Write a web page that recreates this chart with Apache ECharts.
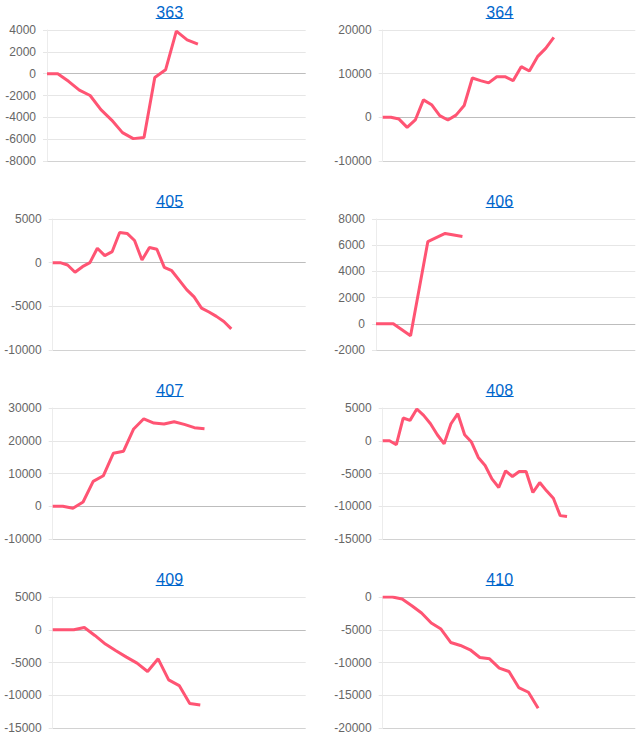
<!DOCTYPE html>
<html>
<head>
<meta charset="utf-8">
<script src="https://cdn.jsdelivr.net/npm/echarts@6/dist/echarts.min.js"></script>
<style>
html,body{margin:0;padding:0;background:#fff;}
#c{width:643px;height:745px;}
</style>
</head>
<body>
<div id="c"></div>
<script>
// Panel titles
const titles = ['363', '364', '405', '406', '407', '408', '409', '410'];
// Number of x slots per panel (category axis, hidden labels)
const slotCounts = [25, 32, 35, 16, 26, 38, 25, 27];
// Y-axis ranges
const yMins = [-8000, -10000, -10000, -2000, -10000, -15000, -15000, -20000];
const yMaxs = [4000, 20000, 5000, 8000, 30000, 5000, 5000, 0];
const yIntervals = [2000, 10000, 5000, 2000, 10000, 5000, 5000, 5000];

// Series values
const s363 = [0, 0, -700, -1500, -2000, -3300, -4250, -5400, -5950, -5850, -350, 350, 3900, 3100, 2700];
const s364 = [0, 0, -400, -2300, -600, 4000, 2900, 400, -600, 500, 2700, 9000, 8400, 7900, 9300, 9300, 8400, 11600, 10600, 13900, 15800, 18300];
const s405 = [0, 0, -270, -1100, -460, 0, 1650, 800, 1270, 3460, 3350, 2540, 300, 1730, 1540, -540, -920, -2000, -3080, -3920, -5200, -5650, -6150, -6730, -7580];
const s406 = [0, 0, -920, 6280, 6900, 6670];
const s407 = [0, 0, -600, 1300, 7600, 9300, 16200, 16800, 23600, 26700, 25400, 25100, 25800, 25000, 24000, 23700];
const s408 = [0, 0, -600, 3470, 3110, 4850, 3880, 2600, 920, -460, 2600, 4130, 920, -200, -2550, -3780, -5820, -7140, -4600, -5460, -4700, -4700, -7900, -6380, -7650, -8780, -11430, -11580];
const s409 = [0, 0, 0, 350, -870, -2190, -3210, -4180, -5100, -6380, -4440, -7650, -8520, -11270, -11480];
const s410 = [0, 0, -300, -1330, -2450, -3980, -4900, -6940, -7400, -8060, -9240, -9440, -10870, -11380, -13830, -14540, -16990];
const seriesData = [s363, s364, s405, s406, s407, s408, s409, s410];

// Layout (pixels)
const W = 643;
const rowTop0 = 30, rowStep = 189, plotH = 131;
const gridLefts = [47, 382.7, 52.7, 376, 52.7, 382.7, 52.7, 382.7];
const colRight = [305.7, 635.3];
const titleCx = [169.7, 499.7];

const lineColor = '#ff5473';
const gridColor = '#e6e6e6';
const zeroColor = '#bdbdbd';
const bottomColor = '#d2d2d2';
const fontFam = 'Liberation Sans, Arial, sans-serif';

const chart = echarts.init(document.getElementById('c'), null, {renderer: 'svg'});

const grids = [], xAxes = [], yAxes = [], series = [], graphics = [];
for (let i = 0; i < 8; i++) {
  const col = i % 2, row = Math.floor(i / 2);
  const top = rowTop0 + row * rowStep;
  grids.push({left: gridLefts[i], right: W - colRight[col], top: top, height: plotH, containLabel: false});
  const cats = [];
  for (let k = 0; k < slotCounts[i]; k++) cats.push(String(k + 1));
  xAxes.push({
    type: 'category', gridIndex: i, data: cats, boundaryGap: false,
    axisLabel: {show: false}, axisTick: {show: false}, axisLine: {show: false}, splitLine: {show: false}
  });
  const colors = [];
  for (let v = yMins[i]; v <= yMaxs[i]; v += yIntervals[i]) {
    colors.push(v === 0 ? zeroColor : (v === yMins[i] ? bottomColor : gridColor));
  }
  yAxes.push({
    type: 'value', gridIndex: i, min: yMins[i], max: yMaxs[i], interval: yIntervals[i],
    axisLine: {show: true, lineStyle: {color: '#ececec', width: 1}},
    axisTick: {show: true, length: 4, lineStyle: {color: gridColor}},
    axisLabel: {color: '#666', fontSize: 12, fontFamily: fontFam, margin: 11,
      formatter: function (v) { return String(v); }},
    splitLine: {show: true, lineStyle: {color: colors, width: 1}}
  });
  series.push({
    type: 'line', xAxisIndex: i, yAxisIndex: i, data: seriesData[i],
    showSymbol: false, symbol: 'none', smooth: false,
    lineStyle: {color: lineColor, width: 3}, itemStyle: {color: lineColor},
    animation: false
  });
  graphics.push({
    type: 'text', silent: true,
    style: {x: titleCx[col], y: top - 18, text: titles[i], textAlign: 'center', textVerticalAlign: 'middle',
      fill: '#0066cc', fontSize: 16, fontFamily: fontFam}
  });
  graphics.push({
    type: 'line', silent: true,
    shape: {x1: titleCx[col] - 14, y1: top - 11.5, x2: titleCx[col] + 14, y2: top - 11.5},
    style: {stroke: '#0066cc', lineWidth: 1}
  });
}

chart.setOption({
  animation: false,
  grid: grids,
  xAxis: xAxes,
  yAxis: yAxes,
  series: series,
  graphic: graphics
});
</script>
</body>
</html>
